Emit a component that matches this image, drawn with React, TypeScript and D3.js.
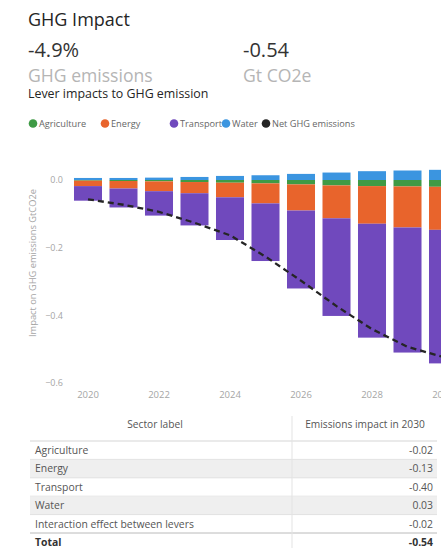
import React from "react";
import * as d3 from "d3";

const years = [2020, 2021, 2022, 2023, 2024, 2025, 2026, 2027, 2028, 2029, 2030];
const agriculture = [-0.002, -0.003, -0.004, -0.006, -0.008, -0.010, -0.013, -0.016, -0.018, -0.019, -0.020];
const energy = [-0.016, -0.022, -0.029, -0.033, -0.043, -0.059, -0.077, -0.097, -0.111, -0.121, -0.127];
const transport = [-0.043, -0.056, -0.072, -0.095, -0.126, -0.170, -0.230, -0.288, -0.336, -0.369, -0.394];
const water = [0.006, 0.006, 0.007, 0.009, 0.012, 0.014, 0.018, 0.022, 0.026, 0.028, 0.030];
const netGhg = [-0.057, -0.073, -0.094, -0.126, -0.163, -0.226, -0.297, -0.372, -0.44, -0.492, -0.522];
const yTicks = [0, -0.2, -0.4, -0.6];
const xTickYears = [2020, 2022, 2024, 2026, 2028, 2030];

const seriesNames = ["Agriculture", "Energy", "Transport", "Water"];
const seriesColors = ["#3f9a45", "#e8642c", "#7049bd", "#3b95e0"];
const legendNames = ["Agriculture", "Energy", "Transport", "Water", "Net GHG emissions"];
const legendColors = ["#3f9a45", "#e8642c", "#7049bd", "#3b95e0", "#252525"];

const tableSectors = ["Agriculture", "Energy", "Transport", "Water", "Interaction effect between levers"];
const tableValues = ["-0.02", "-0.13", "-0.40", "0.03", "-0.02"];
const tableTotal = "-0.54";

const FONT = "'Open Sans', 'Noto Sans', sans-serif";

export default function App() {
  const W = 441;
  const H = 548;

  const x = d3.scaleBand<number>().domain(years).range([66.5, 464.5]).paddingInner(0.211).paddingOuter(0.211);
  const y = d3.scaleLinear().domain([0, -0.6]).range([180, 383.4]);

  const rows = years.map((yr, i) => ({
    year: yr,
    Agriculture: agriculture[i],
    Energy: energy[i],
    Transport: transport[i],
    Water: water[i],
  }));
  const stack = d3.stack<any>().keys(seriesNames).offset(d3.stackOffsetDiverging);
  const layers = stack(rows);

  const line = d3
    .line<number>()
    .x((_, i) => (x(years[i]) as number) + x.bandwidth() / 2)
    .y((d) => y(d));

  const legendX = [33, 105, 174, 226, 266];

  const tableTop = 441;
  const rowH = 18.4;

  return (
    <svg width={W} height={H} style={{ position: "absolute", left: 0, top: 0, background: "#fff" }} fontFamily={FONT}>
      <defs>
        <clipPath id="plotclip">
          <rect x={0} y={150} width={441} height={260} />
        </clipPath>
      </defs>
      {/* header */}
      <text x={28} y={26} fontSize={18} fill="#252525">GHG Impact</text>
      <text x={28} y={57} fontSize={20} fill="#333">-4.9%</text>
      <text x={243} y={57} fontSize={20} fill="#333">-0.54</text>
      <text x={28} y={82} fontSize={17.6} fill="#b5b5b5">GHG emissions</text>
      <text x={243} y={82} fontSize={17.6} fill="#b5b5b5">Gt CO2e</text>
      <text x={28} y={98} fontSize={12.4} fill="#252525">Lever impacts to GHG emission</text>

      {/* legend */}
      {legendNames.map((n, i) => (
        <g key={n}>
          <circle cx={legendX[i]} cy={123.5} r={4.3} fill={legendColors[i]} />
          <text x={legendX[i] + 6} y={127} fontSize={9.2} fill="#666">{n}</text>
        </g>
      ))}

      {/* y axis */}
      {yTicks.map((t) => (
        <text key={t} x={63} y={y(t) + 3} fontSize={9} fill="#a5a5a5" textAnchor="end">
          {t === 0 ? "0.0" : d3.format(".1f")(t)}
        </text>
      ))}
      <text
        transform={`translate(36,263) rotate(-90)`}
        fontSize={9.3}
        fill="#a5a5a5"
        textAnchor="middle"
      >
        Impact on GHG emissions  GtCO2e
      </text>

      {/* bars */}
      <g clipPath="url(#plotclip)">
        {layers.map((layer, li) =>
          layer.map((d, i) => (
            <rect
              key={`${li}-${i}`}
              x={x(years[i])}
              width={x.bandwidth()}
              y={y(Math.max(d[0], d[1]))}
              height={Math.abs(y(d[0]) - y(d[1]))}
              fill={seriesColors[li]}
            />
          ))
        )}
        <path d={line(netGhg) || ""} fill="none" stroke="#252525" strokeWidth={2.3} strokeDasharray="6,4" />
      </g>

      {/* x axis */}
      {xTickYears.map((yr) => (
        <text key={yr} x={(x(yr) as number) + x.bandwidth() / 2} y={398} fontSize={9.5} fill="#a5a5a5" textAnchor="middle">
          {yr}
        </text>
      ))}

      {/* table */}
      <text x={155} y={428} fontSize={10.2} fill="#555" textAnchor="middle">Sector label</text>
      <text x={365} y={428} fontSize={10.2} fill="#555" textAnchor="middle">Emissions impact in 2030</text>
      <line x1={30} x2={437} y1={tableTop} y2={tableTop} stroke="#d5d5d5" strokeWidth={1.2} />
      {tableSectors.map((s, i) => {
        const top = tableTop + i * rowH;
        return (
          <g key={s}>
            {i % 2 === 1 && <rect x={30} y={top + 0.6} width={407} height={rowH - 0.6} fill="#efefef" />}
            <line x1={30} x2={437} y1={top + rowH} y2={top + rowH} stroke="#e2e2e2" />
            <text x={35} y={top + 13} fontSize={10.4} fill="#555">{s}</text>
            <text x={433} y={top + 13} fontSize={10.4} fill="#555" textAnchor="end">{tableValues[i]}</text>
          </g>
        );
      })}
      <line x1={30} x2={437} y1={tableTop + 5 * rowH} y2={tableTop + 5 * rowH} stroke="#c8c8c8" />
      <text x={35} y={tableTop + 5 * rowH + 13} fontSize={10.4} fill="#333" fontWeight="bold">Total</text>
      <text x={433} y={tableTop + 5 * rowH + 13} fontSize={10.4} fill="#333" fontWeight="bold" textAnchor="end">{tableTotal}</text>
      <line x1={292} x2={292} y1={416} y2={548} stroke="#e3e3e3" />
    </svg>
  );
}
